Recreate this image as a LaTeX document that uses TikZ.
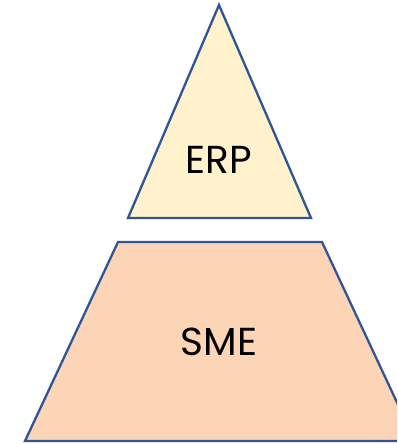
\documentclass[tikz,border=0pt]{standalone}
\usepackage{fontspec}
\setmainfont{Poppins}
\definecolor{edge}{HTML}{2F5597}
\definecolor{topfill}{HTML}{FFF2CC}
\definecolor{botfill}{HTML}{FBD5B5}
\begin{document}
\begin{tikzpicture}[x=1pt,y=-1pt,
  shapeedge/.style={draw=edge,line width=2.3pt,line join=miter},
  lbl/.style={font=\fontsize{39}{44}\selectfont,text=black,inner sep=0pt}]
\useasboundingbox (0,0) rectangle (397,444);
\clip (0,0) rectangle (397,444);
\filldraw[shapeedge,fill=topfill] (219,5) -- (311,218) -- (128,218) -- cycle;
\filldraw[shapeedge,fill=botfill] (118,242) -- (322,242) -- (415,441) -- (25,441) -- cycle;
\node[lbl] (erp) at (219,160) {ERP};
\node[lbl] (sme) at (219,342) {SME};
\end{tikzpicture}
\end{document}
